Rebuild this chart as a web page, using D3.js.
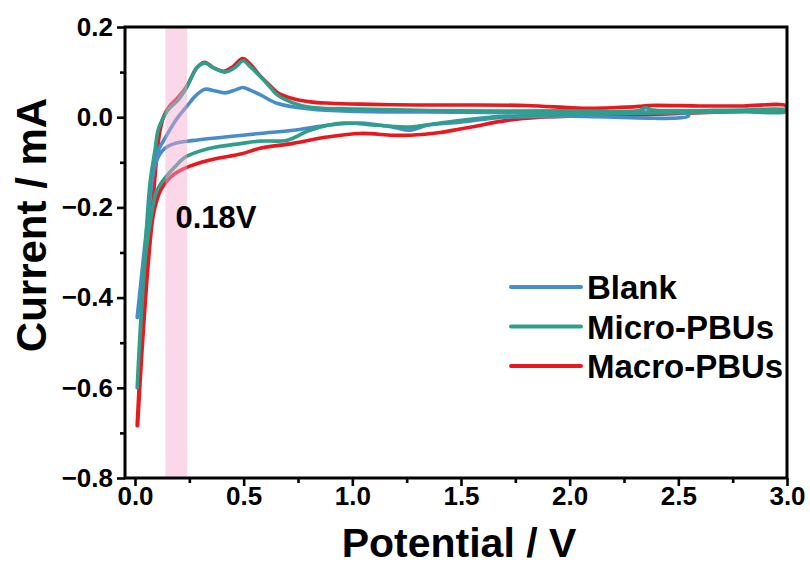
<!DOCTYPE html>
<html>
<head>
<meta charset="utf-8">
<script src="https://cdn.jsdelivr.net/npm/d3@7"></script>
<style>
  html, body { margin: 0; padding: 0; background: #fff; }
  svg { display: block; }
  text { font-family: Arial, "Liberation Sans", sans-serif; font-weight: bold; fill: #000; }
</style>
</head>
<body>
<svg id="chart" width="810" height="567"></svg>
<script>
// Cyclic voltammograms: each series is a closed loop, anodic sweep then cathodic return.
const seriesNames = ["Blank", "Micro-PBUs", "Macro-PBUs"];
const seriesColors = ["#4a8ccb", "#2f9e8c", "#e8191e"];

// Potential (V) and current (mA) pairs for each loop
const blankV = [0.010, 0.035, 0.060, 0.083, 0.100, 0.140, 0.190, 0.240, 0.280, 0.322, 0.370, 0.414, 0.460, 0.497, 0.530, 0.575, 0.653, 0.805, 1.035, 1.500, 2.000, 2.545,
                2.545, 2.000, 1.700, 1.496, 1.344, 1.266, 1.187, 1.035, 0.884, 0.727, 0.575, 0.414, 0.262, 0.184, 0.140, 0.110, 0.090, 0.060, 0.035, 0.012];
const blankI = [-0.444, -0.330, -0.220, -0.110, -0.080, -0.045, -0.005, 0.025, 0.048, 0.062, 0.058, 0.054, 0.060, 0.066, 0.060, 0.050, 0.031, 0.018, 0.013, 0.011, 0.009, 0.007,
                0.002, 0.002, 0.000, -0.011, -0.018, -0.029, -0.022, -0.013, -0.018, -0.029, -0.036, -0.044, -0.052, -0.058, -0.068, -0.085, -0.110, -0.220, -0.330, -0.444];

const microV = [0.010, 0.023, 0.046, 0.069, 0.092, 0.106, 0.124, 0.152, 0.198, 0.239, 0.285, 0.322, 0.360, 0.414, 0.460, 0.497, 0.530, 0.566, 0.612, 0.653, 0.720, 0.805, 1.035, 1.496, 2.000, 2.320, 2.350, 2.380, 2.800, 2.995,
                2.995, 2.800, 2.500, 2.000, 1.634, 1.404, 1.300, 1.266, 1.114, 0.957, 0.805, 0.700, 0.575, 0.492, 0.336, 0.230, 0.184, 0.150, 0.115, 0.095, 0.078, 0.050, 0.025, 0.010];
const microI = [-0.600, -0.480, -0.300, -0.147, -0.073, -0.029, -0.007, 0.016, 0.038, 0.067, 0.110, 0.120, 0.110, 0.100, 0.110, 0.125, 0.112, 0.095, 0.072, 0.050, 0.033, 0.022, 0.018, 0.014, 0.014, 0.015, 0.021, 0.016, 0.016, 0.016,
                0.012, 0.012, 0.010, 0.006, 0.000, -0.013, -0.020, -0.022, -0.018, -0.013, -0.029, -0.051, -0.053, -0.058, -0.070, -0.089, -0.110, -0.128, -0.150, -0.170, -0.210, -0.300, -0.470, -0.600];

const macroV = [0.010, 0.030, 0.055, 0.080, 0.100, 0.115, 0.135, 0.160, 0.200, 0.240, 0.285, 0.320, 0.360, 0.410, 0.450, 0.495, 0.530, 0.570, 0.615, 0.655, 0.720, 0.805, 0.900, 1.035, 1.300, 1.500, 1.800, 2.060, 2.200, 2.320, 2.360, 2.600, 2.800, 2.995,
                2.995, 2.800, 2.600, 2.320, 2.000, 1.864, 1.712, 1.555, 1.496, 1.404, 1.266, 1.187, 1.035, 0.884, 0.727, 0.575, 0.492, 0.336, 0.230, 0.184, 0.150, 0.120, 0.100, 0.083, 0.060, 0.032, 0.012];
const macroI = [-0.684, -0.500, -0.330, -0.200, -0.090, -0.030, 0.005, 0.025, 0.045, 0.070, 0.110, 0.122, 0.110, 0.102, 0.112, 0.130, 0.118, 0.095, 0.073, 0.055, 0.042, 0.034, 0.031, 0.029, 0.027, 0.027, 0.026, 0.020, 0.021, 0.024, 0.026, 0.025, 0.025, 0.025,
                0.015, 0.013, 0.010, 0.005, 0.002, 0.000, -0.007, -0.021, -0.026, -0.034, -0.040, -0.040, -0.036, -0.044, -0.058, -0.069, -0.081, -0.096, -0.113, -0.125, -0.140, -0.160, -0.185, -0.220, -0.330, -0.520, -0.684];

const xTicks = [0.0, 0.5, 1.0, 1.5, 2.0, 2.5, 3.0];
const yTicks = [0.2, 0.0, -0.2, -0.4, -0.6, -0.8];
const bandRange = [0.14, 0.24];
const bandLabel = "0.18V";

const svg = d3.select("#chart");
const frame = { left: 125, right: 787, top: 27, bottom: 478 };

const x = d3.scaleLinear().domain([-0.046, 3.0]).range([frame.left, frame.right]);
const y = d3.scaleLinear().domain([-0.8, 0.2]).range([frame.bottom, frame.top]);

const series = [
  { name: seriesNames[0], color: seriesColors[0], pts: d3.zip(blankV, blankI) },
  { name: seriesNames[1], color: seriesColors[1], pts: d3.zip(microV, microI) },
  { name: seriesNames[2], color: seriesColors[2], pts: d3.zip(macroV, macroI) }
];

const line = d3.line()
  .x(d => x(d[0]))
  .y(d => y(d[1]))
  .curve(d3.curveCatmullRom.alpha(0.5));

const plot = svg.append("g");
plot.append("clipPath").attr("id", "clip")
  .append("rect")
  .attr("x", frame.left).attr("y", frame.top)
  .attr("width", frame.right - frame.left).attr("height", frame.bottom - frame.top);

// draw order: Macro underneath, then Blank, then Micro on top
const drawOrder = [2, 0, 1];
drawOrder.forEach(i => {
  plot.append("path")
    .attr("clip-path", "url(#clip)")
    .attr("d", line(series[i].pts))
    .attr("fill", "none")
    .attr("stroke", series[i].color)
    .attr("stroke-width", 3.6)
    .attr("stroke-linejoin", "round")
    .attr("stroke-linecap", "round");
});

// highlighted potential window, laid over the curves
svg.append("rect")
  .attr("x", x(bandRange[0]))
  .attr("y", frame.top + 1)
  .attr("width", x(bandRange[1]) - x(bandRange[0]))
  .attr("height", frame.bottom - frame.top - 2)
  .attr("fill", "#f4a6cf")
  .attr("fill-opacity", 0.45);

svg.append("text")
  .attr("x", x(bandRange[0]) + 10)
  .attr("y", 228)
  .attr("font-size", 31)
  .text(bandLabel);

// axes
const xAxis = d3.axisBottom(x).tickValues(xTicks).tickSize(8).tickPadding(1).tickFormat(d3.format(".1f"));
const yAxis = d3.axisLeft(y).tickValues(yTicks).tickSize(8).tickPadding(4).tickFormat(d3.format(".1f"));

const xMinor = d3.axisBottom(x).tickValues(d3.range(0.25, 3.0, 0.5)).tickSize(5).tickFormat("");
const yMinor = d3.axisLeft(y).tickValues(d3.range(-0.7, 0.2, 0.2)).tickSize(5).tickFormat("");

function styleAxis(g) {
  g.select(".domain").remove();
  g.selectAll(".tick line").attr("stroke", "#000").attr("stroke-width", 2.6);
  g.selectAll(".tick text").attr("font-size", 26).attr("font-weight", "bold")
    .attr("font-family", "Arial, 'Liberation Sans', sans-serif").attr("fill", "#000");
}

svg.append("g").attr("transform", `translate(0,${frame.bottom})`).call(xAxis).call(styleAxis);
svg.append("g").attr("transform", `translate(0,${frame.bottom})`).call(xMinor).call(styleAxis);
svg.append("g").attr("transform", `translate(${frame.left},0)`).call(yAxis).call(styleAxis);
svg.append("g").attr("transform", `translate(${frame.left},0)`).call(yMinor).call(styleAxis);

// frame
svg.append("rect")
  .attr("x", frame.left).attr("y", frame.top)
  .attr("width", frame.right - frame.left).attr("height", frame.bottom - frame.top)
  .attr("fill", "none").attr("stroke", "#000").attr("stroke-width", 3);

// axis titles
svg.append("text")
  .attr("x", 459)
  .attr("y", 557)
  .attr("text-anchor", "middle")
  .attr("font-size", 41)
  .text("Potential / V");

svg.append("text")
  .attr("transform", "translate(46,225) rotate(-90)")
  .attr("text-anchor", "middle")
  .attr("font-size", 42)
  .text("Current / mA");

// legend
const legend = svg.append("g");
series.forEach((s, i) => {
  const ly = 287 + i * 39.5;
  legend.append("line")
    .attr("x1", 511).attr("x2", 581).attr("y1", ly).attr("y2", ly)
    .attr("stroke", s.color).attr("stroke-width", 4).attr("stroke-linecap", "round");
  legend.append("text")
    .attr("x", 587).attr("y", ly + 12)
    .attr("font-size", 33)
    .text(s.name);
});
</script>
</body>
</html>
